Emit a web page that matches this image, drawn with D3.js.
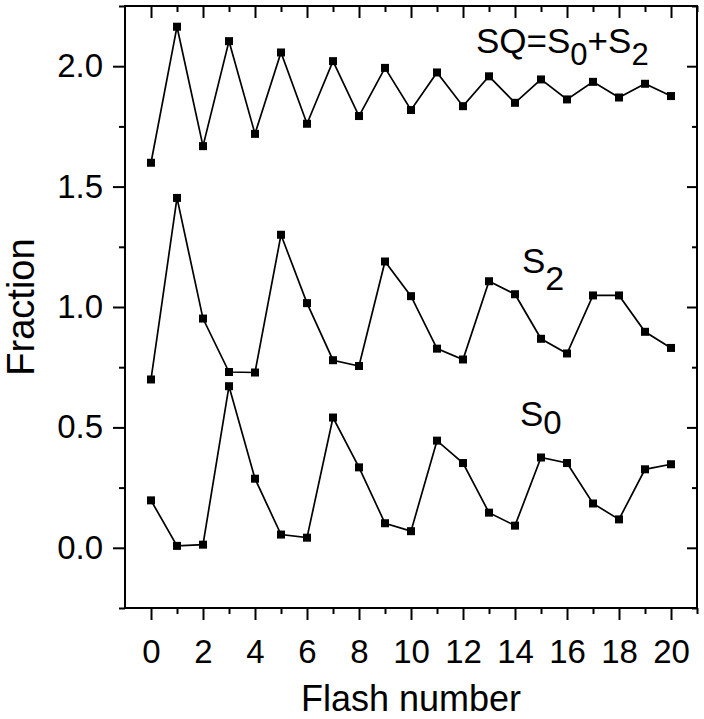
<!DOCTYPE html>
<html>
<head>
<meta charset="utf-8">
<script src="https://cdn.jsdelivr.net/npm/d3@7"></script>
<style>
  body { margin: 0; background: #fff; }
  svg text { font-family: "Liberation Sans", Arial, sans-serif; fill: #000; }
</style>
</head>
<body>
<div id="chart"></div>
<script>
// flash number 0..20
const flashes = d3.range(0, 21);

const s0 = [0.197, 0.008, 0.013, 0.671, 0.287, 0.055, 0.042, 0.541, 0.334, 0.102, 0.069,
            0.445, 0.352, 0.146, 0.092, 0.375, 0.352, 0.184, 0.118, 0.326, 0.347];
const s2 = [0.699, 1.453, 0.952, 0.730, 0.728, 1.300, 1.016, 0.779, 0.755, 1.189, 1.045,
            0.827, 0.782, 1.107, 1.053, 0.868, 0.807, 1.048, 1.048, 0.897, 0.830];
const sq = [1.599, 2.164, 1.668, 2.104, 1.719, 2.057, 1.761, 2.021, 1.793, 1.993, 1.818,
            1.974, 1.834, 1.958, 1.848, 1.945, 1.862, 1.935, 1.870, 1.927, 1.876];

const xMajor = d3.range(0, 21, 2);
const xMinor = d3.range(1, 22, 2);
const yMajor = [0, 0.5, 1.0, 1.5, 2.0];
const yMinor = [-0.25, 0.25, 0.75, 1.25, 1.75, 2.25];

const W = 704, H = 719;
const margin = { top: 6, right: 7, bottom: 111, left: 125 };

const svg = d3.select("#chart").append("svg")
    .attr("width", W)
    .attr("height", H);

// SCALES
const x = d3.scaleLinear().domain([-1, 21]).range([margin.left, W - margin.right]);
const y = d3.scaleLinear().domain([-0.25, 2.25]).range([H - margin.bottom, margin.top]);

const fmt = d3.format(".1f");

function styleAxis(g) {
    g.select(".domain").remove();
    g.selectAll(".tick line").attr("stroke", "#000").attr("stroke-width", 2);
    g.selectAll("text").style("font-size", "33px").attr("fill", "#000");
}

// AXES - bottom / left (outward ticks, labelled)
svg.append("g")
    .attr("transform", "translate(0," + y.range()[0] + ")")
    .call(d3.axisBottom(x).tickValues(xMajor).tickSize(12).tickPadding(19).tickFormat(d3.format("d")))
    .call(styleAxis)
    .selectAll("text").attr("dy", "0.72em");
svg.append("g")
    .attr("transform", "translate(0," + y.range()[0] + ")")
    .call(d3.axisBottom(x).tickValues(xMinor).tickSize(6).tickFormat(""))
    .call(styleAxis);

svg.append("g")
    .attr("transform", "translate(" + x.range()[0] + ",0)")
    .call(d3.axisLeft(y).tickValues(yMajor).tickSize(12).tickPadding(10).tickFormat(fmt))
    .call(styleAxis);
svg.append("g")
    .attr("transform", "translate(" + x.range()[0] + ",0)")
    .call(d3.axisLeft(y).tickValues(yMinor).tickSize(6).tickFormat(""))
    .call(styleAxis);

// AXES - top / right mirrors (inward ticks)
svg.append("g")
    .attr("transform", "translate(0," + y.range()[1] + ")")
    .call(d3.axisBottom(x).tickValues(xMajor).tickSize(12).tickFormat(""))
    .call(styleAxis);
svg.append("g")
    .attr("transform", "translate(0," + y.range()[1] + ")")
    .call(d3.axisBottom(x).tickValues(xMinor).tickSize(6).tickFormat(""))
    .call(styleAxis);
svg.append("g")
    .attr("transform", "translate(" + x.range()[1] + ",0)")
    .call(d3.axisLeft(y).tickValues(yMajor).tickSize(10).tickFormat(""))
    .call(styleAxis);
svg.append("g")
    .attr("transform", "translate(" + x.range()[1] + ",0)")
    .call(d3.axisLeft(y).tickValues(yMinor).tickSize(5).tickFormat(""))
    .call(styleAxis);

// frame
svg.append("rect")
    .attr("x", x.range()[0]).attr("y", y.range()[1])
    .attr("width", x.range()[1] - x.range()[0])
    .attr("height", y.range()[0] - y.range()[1])
    .attr("fill", "none").attr("stroke", "#000").attr("stroke-width", 2);

// AXES LABELS
svg.append("text")
    .text("Flash number")
    .attr("x", (x.range()[0] + x.range()[1]) / 2).attr("y", 711)
    .style("text-anchor", "middle")
    .style("font-size", "36px");

svg.append("text")
    .text("Fraction")
    .attr("transform", "translate(34," + ((y.range()[0] + y.range()[1]) / 2) + ") rotate(-90)")
    .style("text-anchor", "middle")
    .style("font-size", "38px");

// SERIES
const line = d3.line()
    .x((d, i) => x(flashes[i]))
    .y(d => y(d));

[s0, s2, sq].forEach(series => {
    svg.append("path")
        .attr("d", line(series))
        .attr("fill", "none")
        .attr("stroke", "#000")
        .attr("stroke-width", 1.7);

    svg.selectAll(null)
        .data(series)
        .enter()
        .append("rect")
        .attr("x", (d, i) => x(flashes[i]) - 4)
        .attr("y", d => y(d) - 4)
        .attr("width", 8)
        .attr("height", 8)
        .attr("fill", "#000");
});

// series labels
function subLabel(px, py, main, parts) {
    const t = svg.append("text").attr("x", px).attr("y", py).style("font-size", "35px");
    t.append("tspan").text(main);
    parts.forEach(p => {
        t.append("tspan").text(p.text)
            .attr("dy", p.dy)
            .style("font-size", p.size || "35px");
    });
}

subLabel(476, 53, "SQ=S", [
    { text: "0", dy: 12, size: "31px" },
    { text: "+S", dy: -12 },
    { text: "2", dy: 12, size: "31px" }
]);
subLabel(522, 273, "S", [{ text: "2", dy: 17, size: "34px" }]);
subLabel(520, 426, "S", [{ text: "0", dy: 8, size: "33px" }]);
</script>
</body>
</html>
